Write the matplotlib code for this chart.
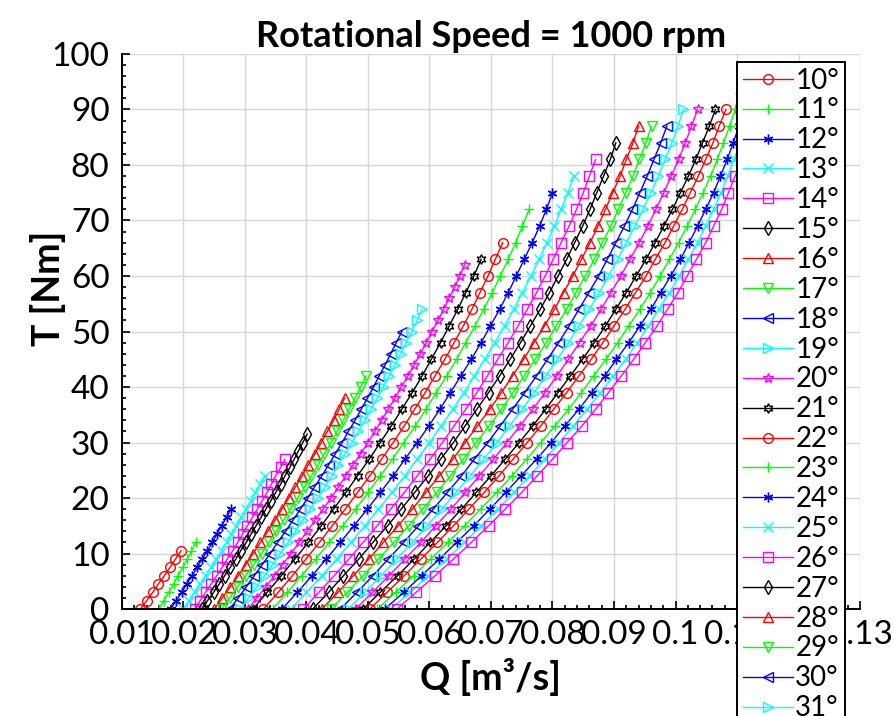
import matplotlib
matplotlib.use("Agg")
import matplotlib.pyplot as plt
from matplotlib.ticker import MultipleLocator

plt.rcParams["font.family"] = ["Lato", "DejaVu Sans"]

# torque levels [Nm] at which each curve's flow rate was read
t_fine = [0, 1.5, 3, 4.5, 6, 7.5, 9, 10.5, 12, 13.5, 15, 16.5, 18, 19.5, 21,
          22.5, 24, 25.5, 27, 28.5, 30, 31.5]
t_mid = [0, 2, 4, 6, 8, 10, 12, 14, 16, 18, 20, 22, 24, 26, 28, 30, 32, 34, 36,
         38, 40, 42, 44, 46, 48, 50, 52, 54, 56, 58, 60, 62]
t_coarse = [0, 3, 6, 9, 12, 15, 18, 21, 24, 27, 30, 33, 36, 39, 42, 45, 48, 51,
            54, 57, 60, 63, 66, 69, 72, 75, 78, 81, 84, 87, 90, 93]

angles = [10, 11, 12, 13, 14, 15, 16, 17, 18, 19, 20, 21, 22, 23, 24, 25, 26,
          27, 28, 29, 30, 31, 32, 33, 34, 35, 36, 37, 38]

# flow rate Q [m^3/s] per blade angle
q10 = [0.0130, 0.0140, 0.0150, 0.0159, 0.0169, 0.0178, 0.0187, 0.0196]
q11 = [0.0160, 0.0168, 0.0176, 0.0184, 0.0191, 0.0199, 0.0206, 0.0213, 0.0220]
q12 = [0.0179, 0.0188, 0.0197, 0.0205, 0.0214, 0.0222, 0.0230, 0.0239, 0.0247,
       0.0254, 0.0262, 0.0270, 0.0277]
q13 = [0.0200, 0.0209, 0.0218, 0.0227, 0.0236, 0.0245, 0.0253, 0.0262, 0.0270,
       0.0278, 0.0286, 0.0294, 0.0302, 0.0310, 0.0317, 0.0325, 0.0332]
q14 = [0.0218, 0.0227, 0.0236, 0.0245, 0.0254, 0.0263, 0.0271, 0.0280, 0.0288,
       0.0296, 0.0304, 0.0312, 0.0320, 0.0328, 0.0336, 0.0343, 0.0350, 0.0358,
       0.0365]
q15 = [0.0230, 0.0239, 0.0249, 0.0258, 0.0267, 0.0276, 0.0285, 0.0293, 0.0302,
       0.0310, 0.0318, 0.0326, 0.0334, 0.0342, 0.0350, 0.0358, 0.0365, 0.0373,
       0.0380, 0.0387, 0.0394, 0.0401]
q16 = [0.0250, 0.0263, 0.0276, 0.0289, 0.0301, 0.0313, 0.0325, 0.0337, 0.0349,
       0.0360, 0.0371, 0.0382, 0.0393, 0.0403, 0.0414, 0.0424, 0.0434, 0.0444,
       0.0453, 0.0462]
q17 = [0.0262, 0.0275, 0.0288, 0.0301, 0.0314, 0.0327, 0.0339, 0.0351, 0.0363,
       0.0374, 0.0386, 0.0397, 0.0408, 0.0419, 0.0429, 0.0440, 0.0450, 0.0460,
       0.0469, 0.0479, 0.0488, 0.0497]
q18 = [0.0275, 0.0289, 0.0302, 0.0315, 0.0328, 0.0341, 0.0353, 0.0366, 0.0378,
       0.0390, 0.0402, 0.0413, 0.0425, 0.0436, 0.0447, 0.0458, 0.0468, 0.0479,
       0.0489, 0.0499, 0.0509, 0.0518, 0.0528, 0.0537, 0.0546, 0.0555]
q19 = [0.0292, 0.0306, 0.0319, 0.0332, 0.0345, 0.0357, 0.0370, 0.0382, 0.0394,
       0.0406, 0.0418, 0.0430, 0.0441, 0.0452, 0.0463, 0.0474, 0.0484, 0.0495,
       0.0505, 0.0515, 0.0525, 0.0534, 0.0544, 0.0553, 0.0562, 0.0571, 0.0580,
       0.0588]
q20 = [0.0305, 0.0319, 0.0334, 0.0348, 0.0361, 0.0375, 0.0388, 0.0401, 0.0414,
       0.0427, 0.0440, 0.0452, 0.0464, 0.0476, 0.0488, 0.0500, 0.0511, 0.0522,
       0.0533, 0.0544, 0.0554, 0.0565, 0.0575, 0.0585, 0.0595, 0.0604, 0.0614,
       0.0623, 0.0632, 0.0641, 0.0649, 0.0657]
q21 = [0.0313, 0.0336, 0.0359, 0.0381, 0.0403, 0.0424, 0.0444, 0.0464, 0.0483,
       0.0502, 0.0520, 0.0538, 0.0555, 0.0572, 0.0588, 0.0603, 0.0618, 0.0632,
       0.0646, 0.0659, 0.0672, 0.0684]
q22 = [0.0330, 0.0354, 0.0377, 0.0399, 0.0421, 0.0442, 0.0463, 0.0483, 0.0503,
       0.0522, 0.0541, 0.0559, 0.0576, 0.0593, 0.0609, 0.0625, 0.0640, 0.0655,
       0.0669, 0.0682, 0.0695, 0.0707, 0.0719]
q23 = [0.0345, 0.0369, 0.0392, 0.0415, 0.0437, 0.0459, 0.0480, 0.0500, 0.0520,
       0.0540, 0.0558, 0.0577, 0.0594, 0.0611, 0.0628, 0.0644, 0.0659, 0.0674,
       0.0688, 0.0702, 0.0715, 0.0728, 0.0740, 0.0751, 0.0762]
q24 = [0.0360, 0.0385, 0.0409, 0.0432, 0.0455, 0.0477, 0.0499, 0.0520, 0.0541,
       0.0560, 0.0580, 0.0599, 0.0617, 0.0634, 0.0651, 0.0668, 0.0684, 0.0699,
       0.0714, 0.0728, 0.0741, 0.0754, 0.0767, 0.0779, 0.0790, 0.0800]
q25 = [0.0375, 0.0400, 0.0425, 0.0449, 0.0472, 0.0495, 0.0517, 0.0539, 0.0560,
       0.0580, 0.0600, 0.0619, 0.0638, 0.0656, 0.0673, 0.0690, 0.0706, 0.0722,
       0.0737, 0.0751, 0.0765, 0.0778, 0.0791, 0.0803, 0.0814, 0.0825, 0.0835]
q26 = [0.0395, 0.0420, 0.0445, 0.0469, 0.0492, 0.0515, 0.0537, 0.0559, 0.0580,
       0.0601, 0.0621, 0.0640, 0.0659, 0.0677, 0.0694, 0.0711, 0.0728, 0.0744,
       0.0759, 0.0774, 0.0788, 0.0801, 0.0814, 0.0827, 0.0839, 0.0850, 0.0860,
       0.0870]
q27 = [0.0410, 0.0436, 0.0460, 0.0485, 0.0508, 0.0532, 0.0554, 0.0576, 0.0598,
       0.0618, 0.0639, 0.0658, 0.0677, 0.0696, 0.0714, 0.0731, 0.0748, 0.0764,
       0.0780, 0.0795, 0.0809, 0.0823, 0.0836, 0.0849, 0.0861, 0.0872, 0.0883,
       0.0894, 0.0903]
q28 = [0.0425, 0.0451, 0.0476, 0.0501, 0.0525, 0.0549, 0.0572, 0.0594, 0.0616,
       0.0638, 0.0658, 0.0678, 0.0698, 0.0717, 0.0735, 0.0753, 0.0770, 0.0787,
       0.0803, 0.0818, 0.0833, 0.0847, 0.0861, 0.0874, 0.0886, 0.0898, 0.0910,
       0.0920, 0.0931, 0.0940]
q29 = [0.0440, 0.0466, 0.0492, 0.0517, 0.0542, 0.0566, 0.0589, 0.0612, 0.0634,
       0.0655, 0.0676, 0.0697, 0.0717, 0.0736, 0.0754, 0.0772, 0.0790, 0.0806,
       0.0823, 0.0838, 0.0853, 0.0868, 0.0881, 0.0895, 0.0907, 0.0919, 0.0931,
       0.0941, 0.0952, 0.0961]
q30 = [0.0455, 0.0482, 0.0508, 0.0533, 0.0558, 0.0582, 0.0606, 0.0629, 0.0652,
       0.0673, 0.0695, 0.0715, 0.0735, 0.0755, 0.0774, 0.0792, 0.0810, 0.0827,
       0.0843, 0.0859, 0.0875, 0.0889, 0.0903, 0.0917, 0.0930, 0.0942, 0.0954,
       0.0965, 0.0976, 0.0986]
q31 = [0.0468, 0.0495, 0.0521, 0.0547, 0.0572, 0.0596, 0.0620, 0.0643, 0.0666,
       0.0688, 0.0710, 0.0730, 0.0751, 0.0770, 0.0789, 0.0808, 0.0826, 0.0843,
       0.0860, 0.0876, 0.0891, 0.0906, 0.0920, 0.0934, 0.0947, 0.0960, 0.0972,
       0.0983, 0.0994, 0.1004, 0.1013]
q32 = [0.0480, 0.0507, 0.0534, 0.0560, 0.0586, 0.0610, 0.0635, 0.0658, 0.0681,
       0.0704, 0.0726, 0.0747, 0.0768, 0.0788, 0.0807, 0.0826, 0.0844, 0.0862,
       0.0879, 0.0895, 0.0911, 0.0926, 0.0941, 0.0955, 0.0968, 0.0981, 0.0993,
       0.1005, 0.1016, 0.1026, 0.1036]
q33 = [0.0492, 0.0520, 0.0548, 0.0575, 0.0601, 0.0627, 0.0652, 0.0676, 0.0700,
       0.0723, 0.0746, 0.0768, 0.0789, 0.0809, 0.0829, 0.0849, 0.0868, 0.0886,
       0.0903, 0.0920, 0.0936, 0.0952, 0.0967, 0.0981, 0.0995, 0.1008, 0.1021,
       0.1033, 0.1044, 0.1055, 0.1065]
q34 = [0.0503, 0.0531, 0.0559, 0.0586, 0.0613, 0.0639, 0.0664, 0.0689, 0.0713,
       0.0736, 0.0759, 0.0781, 0.0802, 0.0823, 0.0843, 0.0863, 0.0882, 0.0900,
       0.0918, 0.0935, 0.0952, 0.0967, 0.0983, 0.0997, 0.1011, 0.1024, 0.1037,
       0.1049, 0.1061, 0.1071, 0.1082]
q35 = [0.0515, 0.0545, 0.0574, 0.0602, 0.0630, 0.0657, 0.0683, 0.0709, 0.0734,
       0.0758, 0.0781, 0.0804, 0.0826, 0.0847, 0.0867, 0.0887, 0.0906, 0.0924,
       0.0942, 0.0959, 0.0975, 0.0990, 0.1005, 0.1019, 0.1032, 0.1045, 0.1057,
       0.1068, 0.1078, 0.1088, 0.1097, 0.1105]
q36 = [0.0527, 0.0558, 0.0587, 0.0616, 0.0644, 0.0672, 0.0698, 0.0724, 0.0749,
       0.0774, 0.0798, 0.0820, 0.0843, 0.0864, 0.0885, 0.0904, 0.0924, 0.0942,
       0.0960, 0.0976, 0.0992, 0.1008, 0.1022, 0.1036, 0.1049, 0.1062, 0.1073,
       0.1084, 0.1094, 0.1103, 0.1112]
q37 = [0.0537, 0.0568, 0.0598, 0.0628, 0.0656, 0.0684, 0.0711, 0.0737, 0.0763,
       0.0787, 0.0811, 0.0834, 0.0856, 0.0878, 0.0899, 0.0919, 0.0938, 0.0956,
       0.0973, 0.0990, 0.1006, 0.1021, 0.1036, 0.1049, 0.1062, 0.1074, 0.1085,
       0.1095, 0.1105, 0.1114]
q38 = [0.0547, 0.0578, 0.0609, 0.0639, 0.0668, 0.0696, 0.0723, 0.0750, 0.0775,
       0.0800, 0.0824, 0.0848, 0.0870, 0.0891, 0.0912, 0.0932, 0.0951, 0.0970,
       0.0987, 0.1004, 0.1019, 0.1034, 0.1049, 0.1062, 0.1075, 0.1086, 0.1097,
       0.1107, 0.1117]

x_ticks = [0.01, 0.02, 0.03, 0.04, 0.05, 0.06, 0.07, 0.08, 0.09, 0.10, 0.11,
           0.12, 0.13]
x_tick_labels = ["0.01", "0.02", "0.03", "0.04", "0.05", "0.06", "0.07",
                 "0.08", "0.09", "0.1", "0.11", "0.12", "0.13"]
y_ticks = [0, 10, 20, 30, 40, 50, 60, 70, 80, 90, 100]

curves = [
    (q10, t_fine), (q11, t_fine), (q12, t_fine), (q13, t_fine),
    (q14, t_fine), (q15, t_fine), (q16, t_mid), (q17, t_mid), (q18, t_mid),
    (q19, t_mid), (q20, t_mid), (q21, t_coarse), (q22, t_coarse),
    (q23, t_coarse), (q24, t_coarse), (q25, t_coarse), (q26, t_coarse),
    (q27, t_coarse), (q28, t_coarse), (q29, t_coarse), (q30, t_coarse),
    (q31, t_coarse), (q32, t_coarse), (q33, t_coarse), (q34, t_coarse),
    (q35, t_coarse), (q36, t_coarse), (q37, t_coarse), (q38, t_coarse),
]

# matlab-like colour / marker cycles
colors = ["#ff0000", "#00ff00", "#0000ff", "#00ffff", "#ff00ff", "#000000"]
markers = ["o", "+", (6, 2, 0), "x", "s", "d", "^", "v", "<", ">", "*",
           (6, 1, 0)]

fig = plt.figure(figsize=(8.95, 7.16), dpi=100)
ax = fig.add_axes([0.1363, 0.1494, 0.8246, 0.7752])

for i, (angle, (q, t)) in enumerate(zip(angles, curves)):
    ax.plot(
        q,
        t[: len(q)],
        color=colors[i % 6],
        marker=markers[i % 12],
        markersize=7,
        markerfacecolor="none",
        markeredgewidth=1.0,
        linewidth=1.0,
        label=f"{angle}°",
    )

ax.set_xlim(0.01, 0.13)
ax.set_ylim(0, 100)
ax.set_xticks(x_ticks)
ax.set_xticklabels(x_tick_labels)
ax.set_yticks(y_ticks)
ax.xaxis.set_minor_locator(MultipleLocator(0.002))
ax.yaxis.set_minor_locator(MultipleLocator(2))
ax.tick_params(which="both", direction="in", labelsize=24, width=1.2)
ax.tick_params(which="major", length=6)
ax.tick_params(which="minor", length=3)
ax.tick_params(axis="y", pad=9)
ax.tick_params(axis="x", pad=8)

for side in ["top", "right"]:
    ax.spines[side].set_visible(False)
for side in ["left", "bottom"]:
    ax.spines[side].set_linewidth(1.4)

ax.grid(True, which="major", color="#d6d6d6", linewidth=1.0)
ax.set_axisbelow(True)

ax.set_title("Rotational Speed = 1000 rpm", fontsize=26, fontweight="bold",
             pad=5)
ax.set_xlabel("Q [m³/s]", fontsize=27, fontweight="bold", labelpad=6)
ax.set_ylabel("T [Nm]", fontsize=27, fontweight="bold")
ax.yaxis.set_label_coords(-0.076, 0.578)

leg = ax.legend(
    loc="upper left",
    bbox_to_anchor=(737 / 895, 1 - 62 / 716),
    bbox_transform=fig.transFigure,
    borderaxespad=0,
    fontsize=20,
    handlelength=1.8,
    handletextpad=0.1,
    labelspacing=0.14,
    borderpad=0.2,
    fancybox=False,
    framealpha=1,
    edgecolor="black",
)
leg.get_frame().set_linewidth(1.4)

fig.savefig("out.png", dpi=100)
